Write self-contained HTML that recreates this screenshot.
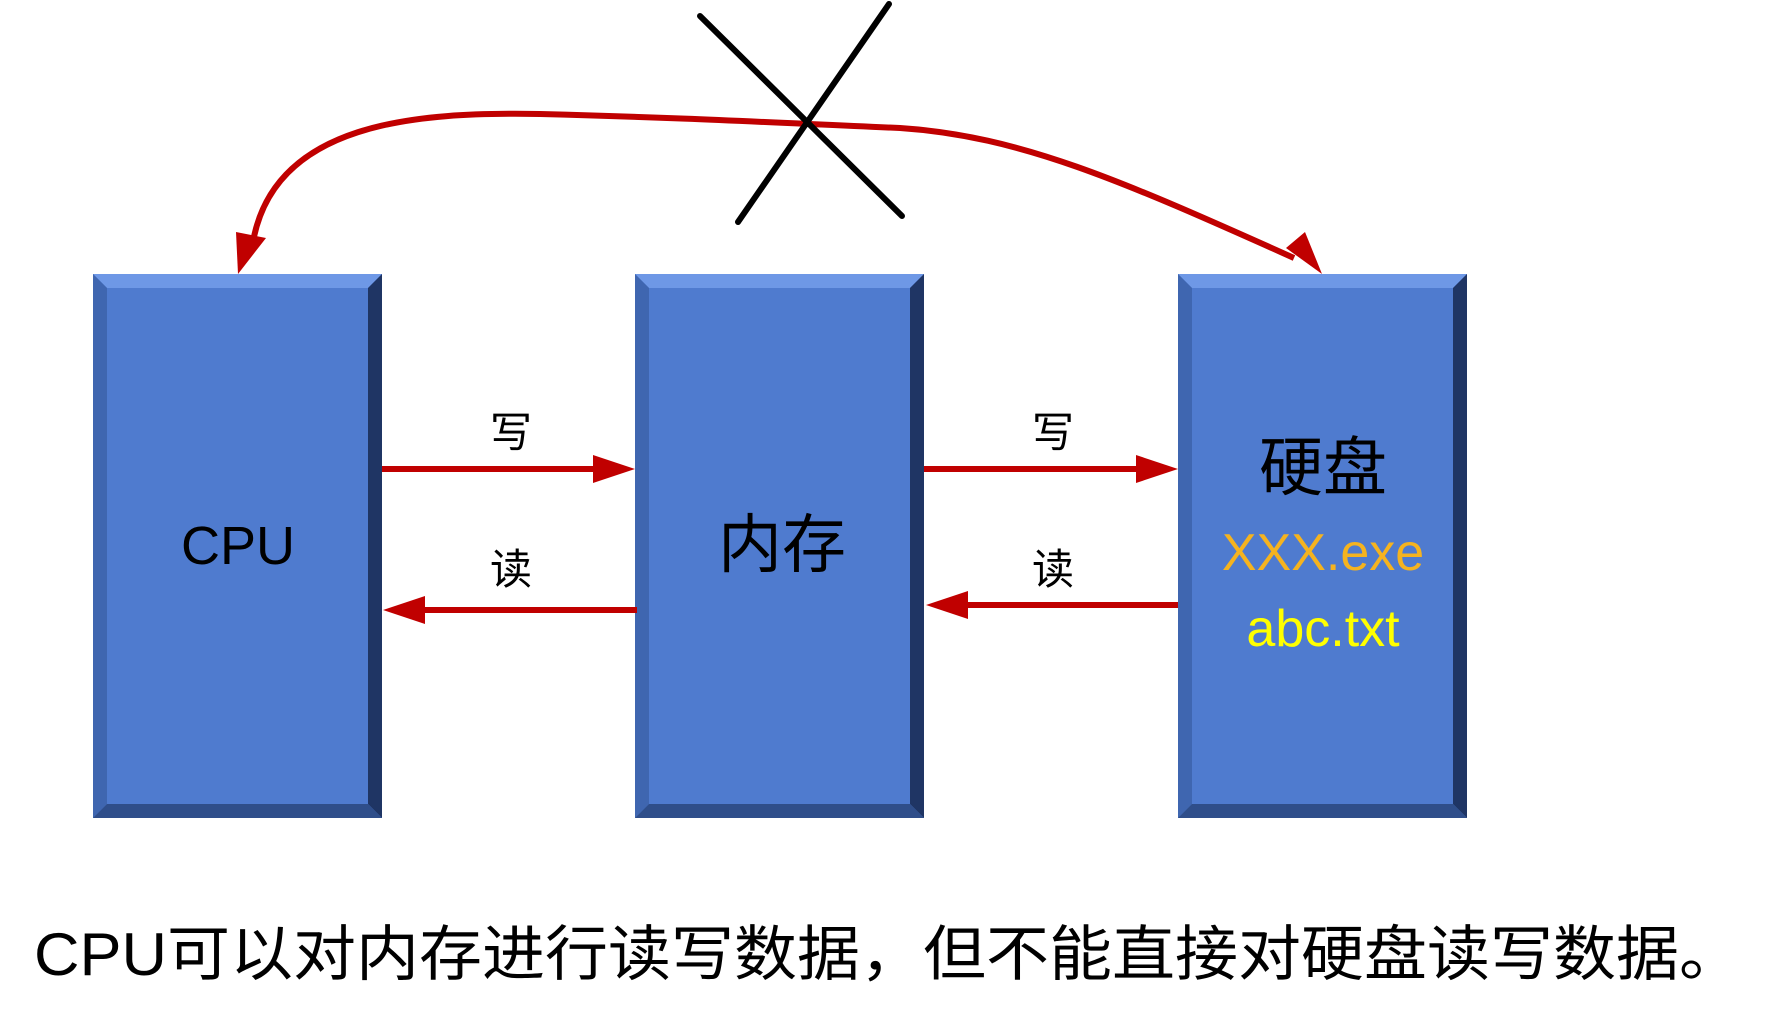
<!DOCTYPE html>
<html><head><meta charset="utf-8"><style>
html,body{margin:0;padding:0;background:#fff;}
svg{display:block;}
text{font-family:"Liberation Sans","Noto Sans CJK SC",sans-serif;}
</style></head><body>
<svg width="1772" height="1021" viewBox="0 0 1772 1021" xmlns="http://www.w3.org/2000/svg">
<g transform="translate(93,274)">
<rect width="289" height="544" fill="#4F7BCF"/>
<polygon points="0,0 289,0 275,14 14,14" fill="#6E98E6"/>
<polygon points="0,0 14,14 14,530 0,544" fill="#3F66B0"/>
<polygon points="289,0 289,544 275,530 275,14" fill="#1F3564"/>
<polygon points="0,544 289,544 275,530 14,530" fill="#2F4E8A"/>
</g>
<g transform="translate(635,274)">
<rect width="289" height="544" fill="#4F7BCF"/>
<polygon points="0,0 289,0 275,14 14,14" fill="#6E98E6"/>
<polygon points="0,0 14,14 14,530 0,544" fill="#3F66B0"/>
<polygon points="289,0 289,544 275,530 275,14" fill="#1F3564"/>
<polygon points="0,544 289,544 275,530 14,530" fill="#2F4E8A"/>
</g>
<g transform="translate(1178,274)">
<rect width="289" height="544" fill="#4F7BCF"/>
<polygon points="0,0 289,0 275,14 14,14" fill="#6E98E6"/>
<polygon points="0,0 14,14 14,530 0,544" fill="#3F66B0"/>
<polygon points="289,0 289,544 275,530 275,14" fill="#1F3564"/>
<polygon points="0,544 289,544 275,530 14,530" fill="#2F4E8A"/>
</g>
<g stroke="#C00000" stroke-width="6" fill="none">
<line x1="382" y1="469" x2="597" y2="469"/>
<line x1="924" y1="469" x2="1140" y2="469"/>
<line x1="637" y1="610" x2="422" y2="610"/>
<line x1="1178" y1="605" x2="965" y2="605"/>
<path d="M252,248 C270,120 420,112 540,114 C690,118 760,122 900,128 C1020,136 1120,180 1294,258"/>
</g>
<g fill="#C00000">
<polygon points="635,469 593,455 593,483"/>
<polygon points="1178,469 1136,455 1136,483"/>
<polygon points="383,610 425,596 425,624"/>
<polygon points="926,605 968,591 968,619"/>
<polygon points="238,274 236,232 266,238"/>
<polygon points="1322,274 1286,248 1305,232"/>
</g>
<g stroke="#000" stroke-width="6" stroke-linecap="round">
<line x1="700" y1="16" x2="902" y2="216"/>
<line x1="889" y1="4" x2="738" y2="222"/>
</g>
<g font-size="42" fill="#000" text-anchor="middle">
<text x="511" y="447">写</text>
<text x="1053" y="447">写</text>
<text x="511" y="584">读</text>
<text x="1053" y="584">读</text>
</g>
<text x="238" y="564" font-size="54" text-anchor="middle" fill="#000">CPU</text>
<text x="782" y="567" font-size="64" text-anchor="middle" fill="#000">内存</text>
<text x="1323" y="490" font-size="64" text-anchor="middle" fill="#000">硬盘</text>
<text x="1323" y="570" font-size="52" text-anchor="middle" fill="#F5B31F">XXX.exe</text>
<text x="1323" y="646" font-size="52" text-anchor="middle" fill="#FFFF00">abc.txt</text>
<text x="34" y="975" font-size="60" fill="#000" textLength="1708" lengthAdjust="spacingAndGlyphs">CPU可以对内存进行读写数据，但不能直接对硬盘读写数据。</text>
</svg>
</body></html>
